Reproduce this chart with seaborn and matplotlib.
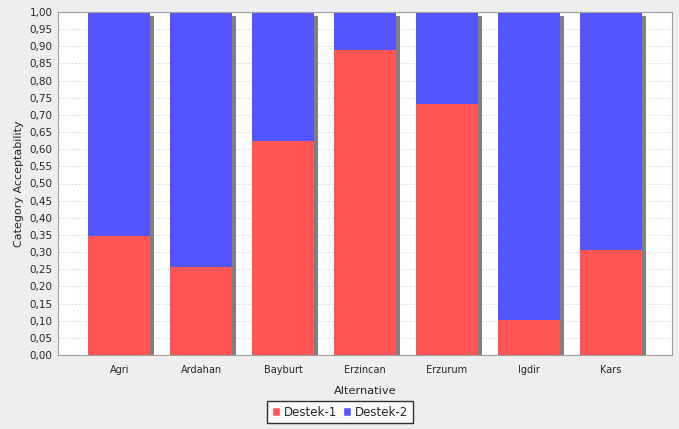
import matplotlib
matplotlib.use("Agg")
import matplotlib.pyplot as plt
import matplotlib.patheffects as pe
import matplotlib.ticker as mticker
from matplotlib.patches import Patch
import pandas as pd
import seaborn as sns

# values
alternatives = ["Agri", "Ardahan", "Bayburt", "Erzincan", "Erzurum", "Igdir", "Kars"]
destek_1 = [0.347, 0.257, 0.624, 0.889, 0.732, 0.102, 0.306]
destek_2 = [0.653, 0.743, 0.376, 0.111, 0.268, 0.898, 0.694]

red = "#FF5555"
blue = "#5555FF"

df = pd.DataFrame({"Alternative": alternatives, "Destek-1": destek_1, "Destek-2": destek_2})
df["Total"] = df["Destek-1"] + df["Destek-2"]

sns.set_style("white")
plt.rcParams["font.family"] = ["DejaVu Sans"]

fig = plt.figure(figsize=(6.79, 4.29), dpi=100, facecolor="#EEEEEE")
ax = fig.add_axes([58 / 679, 74 / 429, 614 / 679, 343 / 429])
ax.set_facecolor("white")

shadow = [pe.SimplePatchShadow(offset=(2.9, -2.9), shadow_rgbFace="#808080", alpha=1.0), pe.Normal()]

# stacked: total in blue, Destek-1 drawn over it in red
sns.barplot(data=df, x="Alternative", y="Total", color=blue, width=0.757,
            saturation=1, ax=ax, zorder=2)
sns.barplot(data=df, x="Alternative", y="Destek-1", color=red, width=0.757,
            saturation=1, ax=ax, zorder=3)
for p in ax.patches:
    p.set_linewidth(0)
for p in ax.patches[:len(alternatives)]:
    p.set_path_effects(shadow)

ax.set_xlim(-0.75, len(alternatives) - 0.25)
ax.set_ylim(0, 1.0)
ax.yaxis.set_major_locator(mticker.MultipleLocator(0.05))
ax.yaxis.set_major_formatter(mticker.FuncFormatter(lambda v, _: f"{v:.2f}".replace(".", ",")))
ax.grid(axis="y", color="#D4D4D4", linestyle=(0, (2, 2)), linewidth=0.6, zorder=0)
ax.set_axisbelow(True)

for s in ax.spines.values():
    s.set_color("#A0A0A0")
    s.set_linewidth(0.8)

ax.tick_params(axis="y", labelsize=7.5, length=2, color="#808080", pad=2)
ax.tick_params(axis="x", labelsize=7, length=2, color="#808080", pad=5)
ax.set_ylabel("Category Acceptability", fontsize=8, labelpad=4)
ax.set_xlabel("Alternative", fontsize=8.2, labelpad=8)

handles = [Patch(facecolor=red, label="Destek-1"), Patch(facecolor=blue, label="Destek-2")]
leg = fig.legend(handles=handles, loc="center", bbox_to_anchor=(340 / 679, 1 - 412 / 429),
                 ncol=2, fontsize=8.5, frameon=True, fancybox=False, handlelength=0.7,
                 handleheight=0.7, handletextpad=0.3, columnspacing=0.5,
                 borderpad=0.4, edgecolor="black", facecolor="white")
leg.get_frame().set_linewidth(1.0)

fig.savefig("out.png", dpi=100, facecolor=fig.get_facecolor())
